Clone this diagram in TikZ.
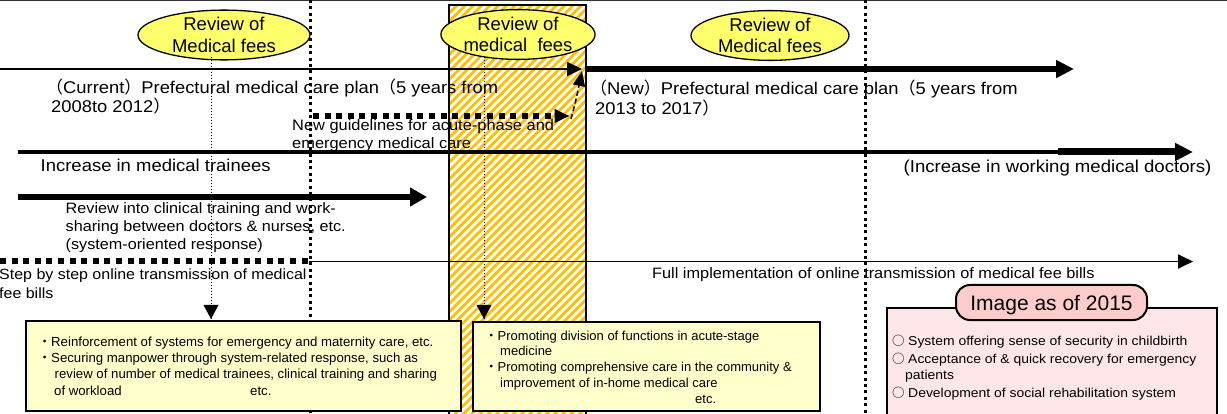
\documentclass[tikz,border=0pt]{standalone}
\usepackage{fontspec}
\setmainfont{Liberation Sans}
\newfontfamily\wide[FakeStretch=1.08]{Liberation Sans}
\newfontfamily\cjk{Noto Sans CJK JP}
\usetikzlibrary{arrows.meta,shapes.geometric}
\definecolor{hatchc}{HTML}{FFC000}
\definecolor{elly}{HTML}{FFFF6C}
\definecolor{boxy}{HTML}{FFFFCC}
\definecolor{pinkbg}{HTML}{FFE6E8}
\definecolor{pinkt}{HTML}{FFCCCC}
\newcommand{\fsz}[2]{\fontsize{#1}{#2}\selectfont}
\newcommand{\circmark}{\makebox[16pt][l]{\cjk\fontsize{12.5}{12.5}\selectfont ○}}
\begin{document}
\begin{tikzpicture}[x=1pt,y=-1pt,
  txt/.style={inner sep=0pt,anchor=base west,align=left},
  ell/.style={ellipse,draw,line width=1.3pt,fill=elly,inner sep=0pt,align=center,font=\fsz{18.5}{21.6}},
  vdots/.style={line width=3pt,dash pattern=on 3pt off 3.4pt},
  thindots/.style={line width=1pt,dash pattern=on 1.2pt off 1.8pt},
  sqdots/.style={line width=5.5pt,dash pattern=on 6pt off 5.6pt},
  infobox/.style={draw,line width=2pt,fill=boxy,inner sep=0pt},
  headM/.style={-{Triangle[length=15pt,width=14pt]}}
]
\useasboundingbox (0,0) rectangle (1227,414);
\clip (0,0) rectangle (1227,414);
\fill[white] (0,0) rectangle (1227,414);

% hatched period
\begin{scope}
  \clip (449,5) rectangle (586,420);
  \foreach \i in {0,...,68}
    \draw[hatchc,line width=2.8pt] ({34+\i*8.3},420) -- ++(415,-415);
\end{scope}
\draw[line width=1.5pt] (449,5) rectangle (586,420);

% top rule
\coordinate (top0) at (0,0.75);
\coordinate (top1) at (1227,0.75);
\draw[line width=1.5pt,black!80] (top0) -- (top1);

% vertical dotted dividers
\coordinate (d1a) at (310.5,0); \coordinate (d1b) at (310.5,414);
\coordinate (d2a) at (865.7,0); \coordinate (d2b) at (865.7,414);
\draw[vdots] (d1a) -- (d1b);
\draw[vdots] (d2a) -- (d2b);

% ellipses
\node[ell,minimum width=172pt,minimum height=45pt] (e1) at (224,35) {Review of\\Medical fees};
\node[ell,minimum width=122pt,minimum height=45pt] (e2) at (518,34.5) {Review of\\medical\ \ fees};
\node[ell,minimum width=158pt,minimum height=42pt] (e3) at (770,35.5) {Review of\\Medical fees};

% plan arrows
\coordinate (p0) at (0,69);
\coordinate (p1) at (582,69);
\coordinate (p2) at (586,69);
\coordinate (p3) at (1074,69);
\draw[line width=2pt,headM] (p0) -- (p1);
\draw[line width=6pt,-{Triangle[length=18pt,width=17pt]}] (p2) -- (p3);

% new guidelines
\coordinate (g0) at (313,116);
\coordinate (g1) at (569.5,116);
\coordinate (g2) at (571,119);
\coordinate (g3) at (582,71);
\draw[sqdots,-{Triangle[length=15pt,width=13pt]}] (g0) -- (g1);
\draw[line width=1.5pt,dash pattern=on 5pt off 3pt,-{Triangle[length=15pt,width=12pt]}] (g2) .. controls (576,100) .. (g3);

% increase line
\coordinate (i0) at (18,152);
\coordinate (i1) at (1058,152);
\coordinate (i2) at (1193,152);
\draw[line width=3.5pt] (i0) -- (i1);
\draw[line width=7pt,-{Triangle[length=18pt,width=17pt]}] (i1) -- (i2);

% trainee arrow
\coordinate (r0) at (18,197);
\coordinate (r1) at (427,197);
\draw[line width=6.5pt,-{Triangle[length=17pt,width=18pt]}] (r0) -- (r1);

% online transmission
\coordinate (s0) at (0,261);
\coordinate (s1) at (309,261);
\coordinate (s2) at (1193,261.5);
\draw[sqdots,line width=6pt] (s0) -- (s1);
\draw[line width=1.8pt,headM] (s1 |- s2) -- (s2);

% vertical thin dotted arrows
\coordinate (v1a) at (211,57); \coordinate (v1b) at (211,319);
\coordinate (v2a) at (484,57); \coordinate (v2b) at (484,319);
\draw[thindots] (v1a) -- ([yshift=-14pt]v1b);
\fill (v1b) -- ++(-7.5,-14) -- ++(15,0) -- cycle;
\draw[thindots] (v2a) -- ([yshift=-14pt]v2b);
\fill (v2b) -- ++(-7.5,-14) -- ++(15,0) -- cycle;

% texts (base anchor of multi-line nodes = last line baseline)
\node[txt,font=\wide\fsz{17}{19.4}] (t1) at (46,112.7) {{\cjk （}Current{\cjk ）}Prefectural medical care plan{\cjk （}5 years from\\\hspace*{5pt}2008to 2012{\cjk ）}};
\node[txt,font=\wide\fsz{17}{19.3}] (t2) at (590,114.3) {{\cjk （}New{\cjk ）}Prefectural medical care plan{\cjk （}5 years from\\\hspace*{5pt}2013 to 2017{\cjk ）}};
\node[txt,font=\wide\fsz{15.2}{17.6}] (t3) at (292,148.3) {New guidelines for acute-phase and\\emergency medical care};
\node[txt,font=\wide\fsz{17.1}{19}] (t4) at (40.5,172) {Increase in medical trainees};
\node[inner sep=0pt,anchor=base east,font=\wide\fsz{17.2}{19}] (t5) at (1211.5,172.5) {(Increase in working medical doctors)};
\node[txt,font=\wide\fsz{15}{18.4}] (t6) at (65.5,250) {Review into clinical training and work-\\sharing between doctors \& nurses, etc.\\(system-oriented response)};
\node[txt,font=\wide\fsz{14.8}{18.3}] (t7) at (-1,298.3) {Step by step online transmission of medical\\fee bills};
\node[txt,font=\wide\fsz{15.1}{17}] (t8) at (652,278.3) {Full implementation of online transmission of medical fee bills};

% bottom boxes
\node[infobox,minimum width=435pt,minimum height=89.5pt] (b1) at (243.5,365.75) {};
\node[infobox,minimum width=347.5pt,minimum height=88.5pt] (b2) at (646.25,366.25) {};
\node[draw,line width=2pt,fill=pinkbg,inner sep=0pt,minimum width=330pt,minimum height=112pt] (b3) at (1052,364) {};
\node[draw,line width=2pt,fill=pinkt,rounded corners=14pt,inner sep=0pt,minimum width=191pt,minimum height=35pt,text depth=0pt,font=\fsz{21}{21}] (title) at (1051.5,302.5) {Image as of 2015};

\node[txt,font=\fsz{13.2}{16.1}] (b1t) at (38,395) {\makebox[13pt][c]{\cjk ・}Reinforcement of systems for emergency and maternity care, etc.\\
\makebox[13pt][c]{\cjk ・}Securing manpower through system-related response, such as\\
\hspace*{16.5pt}review of number of medical trainees, clinical training and sharing\\
\hspace*{16pt}\makebox[196pt][l]{of workload}etc.};
\node[txt,font=\fsz{13}{15.8}] (b2t) at (485,403.3) {\makebox[12.5pt][c]{\cjk ・}Promoting division of functions in acute-stage\\
\hspace*{15pt}medicine\\
\makebox[12.5pt][c]{\cjk ・}Promoting comprehensive care in the community \&\\
\hspace*{15pt}improvement of in-home medical care\\
\hspace*{210pt}etc.};
\node[txt,font=\wide\fsz{12.9}{15.5}] (b3t) at (892,397.3) {\circmark System offering sense of security in childbirth\\[2.8pt]
\circmark Acceptance of \& quick recovery for emergency\\
\hspace*{13pt}patients\\[2.5pt]
\circmark Development of social rehabilitation system};
\end{tikzpicture}
\end{document}
